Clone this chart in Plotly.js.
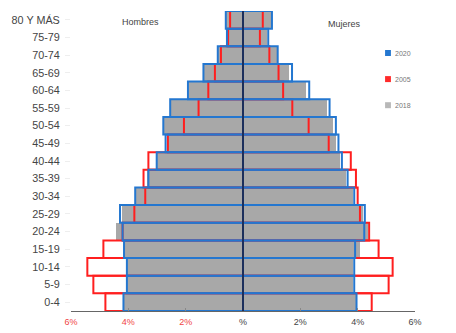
<!DOCTYPE html>
<html><head><meta charset="utf-8">
<script src="https://cdn.plot.ly/plotly-3.0.1.min.js"></script>
<style>html,body{margin:0;padding:0;background:#fff}#c{width:456px;height:333px}</style>
</head><body><div id="c"></div>
<script>
// Age groups, bottom to top
const ages = ['0-4','5-9','10-14','15-19','20-24','25-29','30-34','35-39','40-44','45-49','50-54','55-59','60-64','65-69','70-74','75-79','80 Y MÁS'];
// Percent of population (Hombres = men, Mujeres = women)
const hombres2018 = [4.15,4.03,4.03,4.13,4.44,4.23,3.72,3.34,3.0,2.64,2.74,2.52,1.9,1.36,0.87,0.55,0.6];
const hombres2020 = [4.17,4.05,4.05,4.15,4.2,4.29,3.76,3.3,3.01,2.7,2.78,2.54,1.92,1.38,0.88,0.56,0.6];
const hombres2005 = [4.8,5.22,5.43,4.87,4.2,3.79,3.41,3.47,3.3,2.62,2.06,1.55,1.21,0.98,0.77,0.52,0.45];
const mujeres2018 = [3.94,3.85,3.85,4.08,4.35,4.18,3.82,3.6,3.38,3.24,3.15,2.92,2.2,1.59,1.17,0.85,0.96];
const mujeres2020 = [3.96,3.88,3.88,3.91,4.23,4.25,3.88,3.65,3.45,3.33,3.24,3.02,2.31,1.71,1.21,0.88,1.01];
const mujeres2005 = [4.49,5.08,5.22,4.73,4.4,4.08,4.0,3.94,3.76,2.99,2.29,1.72,1.4,1.24,0.92,0.59,0.69];
const tickVals = [-6,-4,-2,0,2,4,6];
const tickText = ['<span style="color:#f04545">6%</span>','<span style="color:#f04545">4%</span>','<span style="color:#f04545">2%</span>','%','2%','4%','6%'];
const years = ['2020','2005','2018'];
const yearColors = ['#2477d0','#ff2a2a','#b8b8b8'];

const neg = a => a.map(v => -v);
const gray = {color:'#a8a8a8', line:{color:'#a8a8a8', width:0}};
const red = {color:'rgba(0,0,0,0)', line:{color:'#ff1f1f', width:2}};
const blue = {color:'rgba(0,0,0,0)', line:{color:'#2477d0', width:2}};
function bar(x, name, marker){
  return {type:'bar', orientation:'h', y:ages, x:x, name:name, marker:marker,
          showlegend:false, hoverinfo:'skip'};
}
const data = [
  bar(neg(hombres2018),'2018',gray),
  bar(mujeres2018,'2018',gray),
  bar(neg(hombres2005),'2005',red),
  bar(mujeres2005,'2005',red),
  bar(neg(hombres2020),'2020',blue),
  bar(mujeres2020,'2020',blue)
];
const legY = [0.86, 0.773, 0.686];
const shapes = [{type:'line', xref:'x', yref:'paper', x0:0, x1:0, y0:0, y1:1, layer:'above',
           line:{color:'#1c2f5c', width:2}}];
const annotations = [
  {text:'Hombres', xref:'paper', yref:'paper', x:0.203, y:0.962, xanchor:'center', yanchor:'middle', showarrow:false, font:{size:9, color:'#444'}},
  {text:'Mujeres', xref:'paper', yref:'paper', x:0.794, y:0.958, xanchor:'center', yanchor:'middle', showarrow:false, font:{size:9, color:'#444'}}
];
years.forEach((yr,i)=>{
  shapes.push({type:'rect', xref:'paper', yref:'paper', x0:0.913, x1:0.93, y0:legY[i]-0.01, y1:legY[i]+0.01,
               fillcolor:yearColors[i], line:{width:0}});
  annotations.push({text:yr, xref:'paper', yref:'paper', x:0.935, y:legY[i], xanchor:'left', yanchor:'middle',
               showarrow:false, font:{size:7, color:'#777'}});
});
const layout = {
  width:456, height:333,
  margin:{l:71, r:41, t:11, b:22},
  paper_bgcolor:'#fff', plot_bgcolor:'#fff',
  barmode:'overlay', bargap:0,
  font:{family:'Liberation Sans, Arial, sans-serif', color:'#333', size:10},
  xaxis:{range:[-6,6], tickvals:tickVals, ticktext:tickText, showgrid:false, zeroline:false,
         showline:true, linecolor:'#666', linewidth:1, ticks:'inside', ticklen:3, tickcolor:'#888',
         tickfont:{size:9, color:'#444'}, ticklabelstandoff:2, fixedrange:true},
  yaxis:{type:'category', range:[-0.5,16.5], showgrid:false, zeroline:false, showline:false,
         ticks:'outside', ticklen:5, tickcolor:'#eee', ticklabelstandoff:3, tickfont:{size:10.8, color:'#444'}},
  showlegend:false,
  shapes:shapes,
  annotations:annotations
};
Plotly.newPlot('c', data, layout, {displayModeBar:false, staticPlot:true});
</script></body></html>
